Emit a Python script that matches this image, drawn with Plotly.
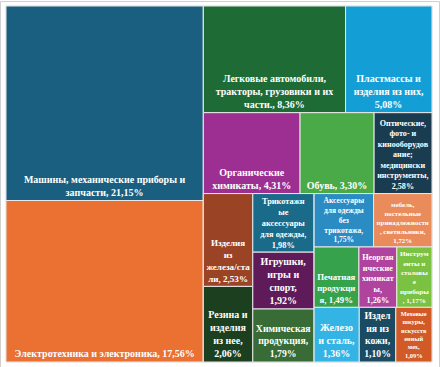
import plotly.graph_objects as go

# ---- data ----
names = [
    "Машины, механические приборы и запчасти",
    "Электротехника и электроника",
    "Легковые автомобили, тракторы, грузовики и их части",
    "Пластмассы и изделия из них",
    "Органические химикаты",
    "Обувь",
    "Оптические, фото- и кинооборудование; медицинские инструменты",
    "Изделия из железа/стали",
    "Резина и изделия из нее",
    "Трикотажные аксессуары для одежды",
    "Игрушки, игры и спорт",
    "Химическая продукция",
    "Аксессуары для одежды без трикотажа",
    "мебель, постельные принадлежности, светильники",
    "Печатная продукция",
    "Неорганические химикаты",
    "Инструменты и столовые приборы",
    "Железо и сталь",
    "Изделия из кожи",
    "Меховые шкуры, искусственный мех",
]
shares = [21.15, 17.56, 8.36, 5.08, 4.31, 3.30, 2.58, 2.53, 2.06, 1.98,
          1.92, 1.79, 1.75, 1.72, 1.49, 1.26, 1.17, 1.36, 1.10, 1.09]
label_text = [
    "Машины, механические приборы и<br>запчасти, {p}",
    "Электротехника и электроника, {p}",
    "Легковые автомобили,<br>тракторы, грузовики и их<br>части., {p}",
    "Пластмассы и<br>изделия из них,<br>{p}",
    "Органические<br>химикаты, {p}",
    "Обувь, {p}",
    "Оптические,<br>фото- и<br>кинооборудов<br>ание;<br>медицински<br>инструменты,<br>{p}",
    "Изделия<br>из<br>железа/ста<br>ли, {p}",
    "Резина и<br>изделия<br>из нее,<br>{p}",
    "Трикотажн<br>ые<br>аксессуары<br>для одежды,<br>{p}",
    "Игрушки,<br>игры и<br>спорт,<br>{p}",
    "Химическая<br>продукция,<br>{p}",
    "Аксессуары<br>для одежды<br>без<br>трикотажа,<br>{p}",
    "мебель,<br>постельные<br>принадлежности<br>, светильники,<br>{p}",
    "Печатная<br>продукци<br>я, {p}",
    "Неорган<br>ические<br>химикат<br>ы,<br>{p}",
    "Инструм<br>енты и<br>столовы<br>е<br>приборы<br>, {p}",
    "Железо<br>и сталь,<br>{p}",
    "Издел<br>ия из<br>кожи,<br>{p}",
    "Меховые<br>шкуры,<br>искусств<br>енный<br>мех,<br>{p}",
]
colors = [
    "#1a5f7f", "#ea7131", "#1e6b36", "#139fd6", "#9c2f91", "#4aaa48",
    "#1a3c50", "#9a4325", "#1c3f20", "#1a6a8a", "#5f1a5a", "#386b35",
    "#2b8cc4", "#e98b5a", "#37a24c", "#b0439d", "#7cc242", "#33b4e4",
    "#1b4a63", "#d15a26",
]
# grouping (invisible layout groups)
group_ids = ["root", "A", "B", "B1", "B2", "B3", "C1", "C2", "C3", "D1", "D2", "D3"]
group_parents = ["", "root", "root", "B", "B", "B", "B3", "B3", "B3", "C3", "C3", "C3"]
leaf_parents = ["A", "A", "B1", "B1", "B2", "B2", "B2", "C1", "C1", "C2",
                "C2", "C2", "D1", "D1", "D2", "D2", "D2", "D3", "D3", "D3"]

# ---- build ----
ids = group_ids + [f"L{i}" for i in range(len(names))]
parents = group_parents + leaf_parents
labels = group_ids + names
values = [0] * len(group_ids) + shares
texts = [""] * len(group_ids) + [
    t.format(p=f"{v:.2f}".replace(".", ",") + "%") for t, v in zip(label_text, shares)
]
cols = ["#ffffff"] * len(group_ids) + colors

font = dict(family="Liberation Serif", size=10, color="white", weight="bold")

fig = go.Figure(go.Treemap(
    ids=ids,
    labels=labels,
    parents=parents,
    values=values,
    branchvalues="remainder",
    sort=False,
    text=texts,
    texttemplate="%{text}",
    textposition="bottom center",
    textfont=font,
    insidetextfont=font,
    marker=dict(colors=cols, line=dict(color="#e8e8e8", width=1),
                pad=dict(t=0, l=0, r=0, b=0)),
    tiling=dict(packing="slice-dice", pad=0),
    pathbar=dict(visible=False),
    hoverinfo="label+text",
))

fig.update_layout(
    width=441, height=367,
    margin=dict(l=6, r=9, t=6, b=5),
    paper_bgcolor="white",
    font=dict(family="Liberation Serif"),
    shapes=[dict(type="rect", xref="paper", yref="paper",
                 x0=-0.0129, x1=1.0176, y0=-0.05, y1=1.0126,
                 line=dict(color="#d0d0d0", width=1), fillcolor="rgba(0,0,0,0)",
                 layer="below")],
)

fig.write_html("out.html", config={"displayModeBar": False},
               post_script="document.body.style.margin='0';")
